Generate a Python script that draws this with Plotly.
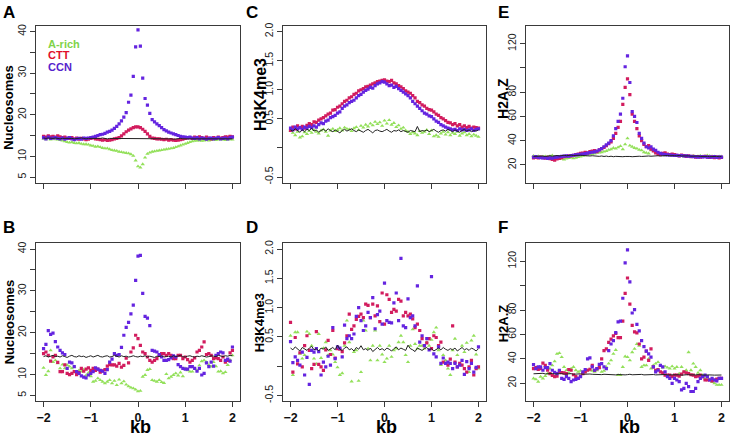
"""Perfiles de nucleosomas, H3K4me3 y H2A.Z alrededor del sitio (kb)"""

import numpy as np
import plotly.graph_objects as go

# ---------------- datos ----------------
KB_TICKS = [-2, -1, 0, 1, 2]

# A - Nucleosomas (promedio)
a_rich_A = [14.2, 14.1, 14.3, 14.0, 14.2, 14.1, 14.0, 13.9, 13.8, 13.6, 13.4, 13.3, 13.4, 13.2, 13.1, 13.2, 13.0, 12.9, 12.9, 12.8,
            12.6, 12.5, 12.3, 12.4, 12.2, 12.0, 11.9, 11.9, 11.7, 11.5, 11.4, 11.3, 11.1, 11.0, 10.9, 10.8, 10.7, 10.5, 10.1, 9.0,
            7.6, 7.3, 8.1, 9.7, 10.6, 10.9, 11.1, 11.2, 11.3, 11.4, 11.5, 11.6, 11.7, 11.8, 11.9, 12.0, 12.2, 12.4, 12.6, 12.8,
            13.0, 13.2, 13.4, 13.6, 13.7, 13.8, 13.8, 13.7, 13.8, 13.9, 13.8, 13.9, 14.0, 13.9, 14.0, 14.1, 14.0, 13.9, 14.0, 14.1, 14.0]
ctt_A = [14.8, 14.6, 14.9, 14.7, 14.8, 14.6, 14.9, 14.7, 14.5, 14.6, 14.4, 14.3, 14.5, 14.2, 14.4, 14.1, 14.3, 14.2, 14.0, 14.1,
         14.3, 14.4, 14.2, 14.1, 14.0, 13.9, 14.0, 13.8, 13.9, 14.0, 14.2, 14.3, 14.5, 14.9, 15.4, 15.9, 16.3, 16.6, 16.9, 17.1,
         17.1, 16.9, 16.5, 16.0, 15.4, 14.8, 14.4, 14.3, 14.2, 14.2, 14.1, 14.0, 14.1, 13.9, 14.0, 13.9, 13.8, 13.9, 14.0, 14.1,
         14.3, 14.4, 14.5, 14.3, 14.6, 14.4, 14.7, 14.5, 14.3, 14.6, 14.4, 14.2, 14.5, 14.3, 14.6, 14.4, 14.5, 14.7, 14.6, 14.8, 14.7]
ccn_A = [14.5, 14.2, 14.6, 14.3, 14.4, 14.5, 14.3, 14.2, 14.4, 14.1, 14.3, 14.5, 14.2, 14.0, 14.2, 14.3, 14.1, 14.4, 14.3, 14.4,
         14.5, 14.6, 14.8, 15.0, 15.2, 15.3, 15.5, 15.8, 16.0, 16.3, 16.7, 17.2, 17.8, 18.5, 19.4, 20.5, 23.0, 24.7, 29.2, 36.3,
         40.4, 36.5, 28.8, 23.9, 22.3, 20.3, 18.8, 18.3, 17.8, 17.4, 16.9, 16.4, 16.1, 15.8, 15.6, 15.4, 15.2, 15.0, 14.8, 14.7,
         14.6, 14.5, 14.6, 14.4, 14.3, 14.5, 14.2, 14.4, 14.3, 14.1, 14.3, 14.4, 14.2, 14.3, 14.5, 14.2, 14.3, 14.4, 14.2, 14.5, 14.6]
fondo_A = [14.4, 14.3, 14.4, 14.3, 14.3, 14.4, 14.3, 14.2, 14.3, 14.3, 14.4, 14.3, 14.3, 14.2, 14.3, 14.3, 14.4, 14.3, 14.2, 14.3,
           14.3, 14.3, 14.2, 14.3, 14.3, 14.4, 14.3, 14.2, 14.3, 14.3, 14.2, 14.3, 14.3, 14.2, 14.3, 14.2, 14.3, 14.3, 14.2, 14.3,
           14.2, 14.3, 14.2, 14.2, 14.3, 14.2, 14.3, 14.2, 14.2, 14.3, 14.2, 14.2, 14.3, 14.2, 14.2, 14.1, 14.2, 14.2, 14.3, 14.2,
           14.2, 14.1, 14.2, 14.2, 14.1, 14.2, 14.2, 14.1, 14.2, 14.2, 14.2, 14.1, 14.2, 14.2, 14.1, 14.2, 14.1, 14.2, 14.2, 14.1, 14.2]

# B - Nucleosomas (individual)
a_rich_B = [11.6, 9.9, 10.8, 15.8, 13.0, 13.4, 12.7, 11.5, 12.4, 11.5, 12.3, 11.9, 11.5, 11.9, 10.7, 11.0, 10.7, 11.2, 9.8, 10.4,
            9.6, 8.3, 8.5, 9.1, 8.7, 8.3, 7.9, 8.3, 8.7, 7.9, 8.5, 7.5, 8.8, 7.9, 8.4, 7.6, 7.2, 6.9, 6.7, 6.4,
            6.0, 6.1, 9.5, 9.9, 11.1, 11.3, 8.7, 8.5, 8.3, 8.7, 8.2, 8.0, 10.1, 9.1, 9.5, 9.9, 10.3, 9.8, 10.5, 9.6,
            11.5, 11.0, 10.7, 10.7, 11.5, 11.0, 12.2, 13.2, 13.4, 13.0, 12.3, 11.9, 13.0, 12.0, 10.7, 10.8, 10.3, 10.6, 12.3, 13.5, 14.6]
ctt_B = [15.0, 15.4, 14.6, 13.2, 14.2, 14.6, 12.9, 10.7, 10.7, 12.3, 10.3, 10.0, 10.3, 10.7, 10.0, 10.5, 11.5, 10.8, 11.3, 11.6,
         11.0, 11.5, 11.0, 11.3, 10.6, 10.9, 11.2, 12.0, 12.4, 12.3, 12.3, 12.0, 12.7, 11.8, 12.2, 13.9, 12.8, 15.4, 16.4, 19.4,
         18.6, 17.0, 15.4, 15.0, 14.2, 13.4, 13.0, 13.4, 13.8, 14.6, 15.0, 15.0, 14.6, 15.0, 14.6, 13.8, 13.8, 14.6, 14.6, 13.8,
         14.2, 13.6, 13.0, 13.4, 14.0, 15.4, 15.8, 16.6, 17.8, 14.8, 15.0, 14.6, 13.8, 14.0, 13.8, 13.4, 14.2, 13.0, 13.4, 15.2, 15.8]
ccn_B = [16.2, 17.2, 20.5, 19.6, 19.9, 17.9, 16.6, 15.8, 15.2, 14.8, 11.5, 13.0, 12.8, 11.9, 10.7, 10.3, 9.7, 9.4, 9.2, 9.9,
         10.3, 10.7, 11.6, 11.3, 11.0, 10.8, 10.3, 11.2, 13.0, 13.7, 15.0, 14.6, 14.8, 16.5, 19.4, 21.3, 22.5, 24.5, 26.6, 32.5,
         38.3, 38.5, 29.4, 23.9, 23.5, 21.7, 15.8, 15.6, 15.4, 14.8, 14.2, 13.4, 13.4, 13.6, 14.0, 14.5, 14.2, 12.4, 11.9, 11.5,
         11.3, 11.3, 11.9, 11.9, 11.5, 10.8, 11.5, 9.9, 10.3, 12.8, 11.9, 13.0, 12.0, 14.6, 15.0, 15.4, 15.2, 13.4, 13.7, 13.2, 16.6]
fondo_B = [14.3, 14.5, 14.2, 14.4, 14.6, 14.3, 14.4, 14.2, 14.5, 14.3, 14.1, 14.4, 14.6, 14.3, 14.2, 14.5, 14.3, 14.4, 14.1, 14.3,
           14.5, 14.2, 14.4, 14.6, 14.3, 14.2, 14.4, 14.5, 14.2, 14.3, 14.6, 14.4, 14.2, 14.5, 14.3, 14.4, 14.2, 14.3, 14.5, 14.3,
           14.2, 14.4, 14.3, 14.5, 14.2, 14.4, 14.3, 14.1, 14.4, 14.3, 14.5, 14.2, 14.3, 14.4, 14.2, 14.5, 14.3, 14.4, 14.6, 14.3,
           14.2, 14.4, 14.5, 14.3, 14.2, 14.4, 14.3, 14.5, 14.4, 14.2, 14.3, 14.5, 14.4, 14.3, 14.6, 14.4, 14.3, 14.5, 14.4, 14.6, 14.5]

# C - H3K4me3 (promedio)
a_rich_C = [0.30, 0.26, 0.22, 0.28, 0.18, 0.20, 0.27, 0.24, 0.29, 0.26, 0.31, 0.28, 0.25, 0.30, 0.32, 0.28, 0.21, 0.30, 0.33, 0.29,
            0.31, 0.34, 0.30, 0.35, 0.33, 0.32, 0.29, 0.34, 0.36, 0.31, 0.38, 0.35, 0.40, 0.37, 0.42, 0.39, 0.45, 0.41, 0.44, 0.38,
            0.47, 0.42, 0.48, 0.40, 0.43, 0.36, 0.39, 0.33, 0.35, 0.30, 0.28, 0.24, 0.27, 0.25, 0.22, 0.29, 0.26, 0.28, 0.31, 0.24,
            0.30, 0.20, 0.22, 0.19, 0.25, 0.28, 0.23, 0.27, 0.22, 0.26, 0.24, 0.28, 0.21, 0.25, 0.27, 0.22, 0.24, 0.20, 0.23, 0.21, 0.19]
ctt_C = [0.30, 0.36, 0.33, 0.38, 0.35, 0.37, 0.34, 0.39, 0.42, 0.40, 0.45, 0.44, 0.48, 0.50, 0.52, 0.55, 0.58, 0.60, 0.65, 0.66,
         0.70, 0.72, 0.76, 0.80, 0.82, 0.86, 0.88, 0.92, 0.94, 0.98, 1.00, 1.02, 1.05, 1.06, 1.08, 1.10, 1.12, 1.14, 1.15, 1.16,
         1.17, 1.15, 1.14, 1.16, 1.12, 1.10, 1.07, 1.05, 1.02, 0.98, 0.96, 0.94, 0.90, 0.86, 0.80, 0.78, 0.74, 0.72, 0.68, 0.66,
         0.65, 0.62, 0.58, 0.56, 0.52, 0.50, 0.47, 0.44, 0.43, 0.40, 0.42, 0.38, 0.40, 0.36, 0.38, 0.35, 0.37, 0.34, 0.36, 0.35, 0.34]
ccn_C = [0.34, 0.31, 0.36, 0.33, 0.35, 0.32, 0.36, 0.34, 0.37, 0.35, 0.38, 0.36, 0.40, 0.43, 0.42, 0.46, 0.48, 0.52, 0.54, 0.56,
         0.60, 0.62, 0.68, 0.72, 0.74, 0.78, 0.80, 0.82, 0.86, 0.90, 0.92, 0.96, 0.99, 1.01, 1.04, 1.03, 1.07, 1.10, 1.12, 1.14,
         1.13, 1.10, 1.07, 1.08, 1.04, 1.06, 1.02, 0.99, 0.96, 0.93, 0.90, 0.86, 0.80, 0.76, 0.72, 0.68, 0.64, 0.60, 0.58, 0.55,
         0.54, 0.50, 0.46, 0.44, 0.40, 0.38, 0.36, 0.34, 0.33, 0.31, 0.32, 0.30, 0.33, 0.31, 0.32, 0.30, 0.31, 0.33, 0.30, 0.32, 0.33]
fondo_C = [0.31, 0.29, 0.33, 0.30, 0.27, 0.31, 0.28, 0.32, 0.30, 0.34, 0.29, 0.31, 0.27, 0.30, 0.32, 0.29, 0.33, 0.30, 0.28, 0.31,
           0.29, 0.26, 0.30, 0.32, 0.29, 0.31, 0.33, 0.30, 0.28, 0.31, 0.29, 0.27, 0.30, 0.32, 0.29, 0.26, 0.30, 0.31, 0.29, 0.28,
           0.30, 0.32, 0.29, 0.27, 0.30, 0.29, 0.31, 0.28, 0.30, 0.29, 0.27, 0.30, 0.29, 0.28, 0.37, 0.28, 0.30, 0.29, 0.31, 0.28,
           0.30, 0.32, 0.29, 0.27, 0.30, 0.31, 0.29, 0.32, 0.30, 0.28, 0.31, 0.29, 0.27, 0.30, 0.32, 0.29, 0.31, 0.28, 0.30, 0.29, 0.31]

# D - H3K4me3 (individual)
a_rich_D = [0.52, -0.15, 0.58, 0.58, 0.21, 0.13, 0.19, 0.59, 0.55, 0.35, 0.13, 0.04, 0.55, 0.14, 0.31, 0.41, 0.19, 0.27, 0.20, 0.07,
            -0.02, -0.15, -0.12, 0.35, 0.78, 0.41, -0.26, 0.24, 0.27, -0.25, -0.10, 0.78, 0.61, 0.30, 0.10, 0.35, 0.61, 0.10, 0.35, 0.20,
            0.07, 0.13, 0.35, 0.16, 0.27, 0.30, 0.41, 0.52, 0.41, 0.19, 0.07, 0.35, 0.63, 0.38, 0.30, 0.35, 0.35, 0.30, 0.41, 0.35,
            0.45, 0.58, 0.66, 0.27, 0.02, 0.19, 0.10, -0.04, -0.15, 0.27, 0.47, 0.19, 0.02, 0.35, 0.24, 0.40, -0.10, 0.44, 0.52, 0.20, -0.04]
ctt_D = [0.75, -0.10, 0.49, 0.04, 0.23, -0.01, 0.35, 0.52, 0.27, -0.04, 0.03, 0.59, 0.03, -0.01, -0.07, 0.28, 0.44, 0.20, 0.61, 0.14,
         0.30, 0.29, 0.25, 0.40, 0.52, 0.89, 0.63, 0.69, 0.80, 0.85, 0.89, 0.83, 1.06, 1.04, 0.83, 1.06, 0.86, 1.03, 0.76, 1.25,
         0.72, 1.22, 1.14, 0.92, 0.97, 0.94, 1.14, 1.11, 0.86, 0.92, 0.86, 0.89, 0.81, 0.66, 0.72, 0.61, 0.47, 0.35, 0.40, 0.47,
         0.30, 0.52, 0.49, 0.35, 0.41, 0.07, 0.05, 0.02, 0.12, 0.69, 0.07, -0.01, 0.05, 0.02, -0.04, -0.10, -0.01, 0.10, -0.15, -0.04, -0.01]
ccn_D = [0.42, 0.06, 0.16, 0.10, 0.02, 0.24, -0.15, 0.15, -0.31, 0.27, 0.24, 0.30, 0.25, -0.15, 0.07, -0.01, 0.17, 0.02, 0.66, 0.13,
         0.33, 0.31, 0.16, 0.70, 0.47, 0.52, 0.47, 0.55, 0.85, 1.00, 0.78, 0.61, 0.69, 0.92, 0.83, 1.17, 0.64, 0.88, 0.94, 0.72,
         1.42, 0.78, 0.75, 0.74, 1.08, 1.25, 0.78, 1.84, 0.69, 0.66, 1.15, 0.83, 0.86, 0.69, 1.37, 0.41, 0.52, 0.35, 0.47, 0.28,
         1.53, 0.21, 0.16, 0.33, 0.05, 0.14, 0.05, 0.07, 0.05, -0.04, 0.05, -0.01, 0.02, 0.10, -0.14, 0.08, -0.04, 0.05, -0.10, -0.02, 0.33]
fondo_D = [0.31, 0.28, 0.33, 0.29, 0.26, 0.32, 0.30, 0.27, 0.31, 0.34, 0.28, 0.30, 0.26, 0.31, 0.29, 0.33, 0.27, 0.30, 0.32, 0.28,
           0.36, 0.29, 0.27, 0.31, 0.33, 0.28, 0.30, 0.26, 0.32, 0.29, 0.35, 0.28, 0.30, 0.27, 0.31, 0.25, 0.29, 0.32, 0.28, 0.30,
           0.27, 0.31, 0.29, 0.26, 0.30, 0.33, 0.28, 0.31, 0.29, 0.27, 0.36, 0.30, 0.28, 0.25, 0.31, 0.29, 0.27, 0.30, 0.32, 0.28,
           0.30, 0.26, 0.29, 0.31, 0.28, 0.32, 0.29, 0.27, 0.30, 0.28, 0.31, 0.26, 0.29, 0.32, 0.28, 0.30, 0.27, 0.31, 0.29, 0.26, 0.30]

# E - H2A.Z (promedio)
a_rich_E = [27.5, 26.8, 27.2, 26.5, 26.9, 27.0, 26.4, 27.3, 27.8, 26.7, 26.0, 25.5, 25.0, 24.5, 25.2, 25.8, 26.2, 25.5, 26.0, 26.5,
            27.0, 27.5, 28.0, 28.5, 28.8, 29.0, 29.5, 30.0, 30.2, 30.5, 31.0, 31.5, 32.5, 33.0, 34.0, 33.5, 34.5, 35.5, 33.0, 37.0,
            42.0, 36.0, 35.0, 34.0, 33.5, 32.5, 32.0, 30.5, 30.0, 29.5, 32.0, 32.6, 30.5, 30.0, 29.0, 28.5, 28.0, 28.2, 27.8, 28.0,
            27.5, 27.8, 27.3, 27.6, 27.0, 27.4, 26.8, 27.1, 27.5, 26.9, 27.2, 27.6, 27.0, 27.3, 27.8, 27.5, 27.2, 27.0, 26.8, 27.1, 27.0]
ctt_E = [25.8, 26.2, 25.9, 26.5, 26.0, 25.6, 26.3, 25.2, 24.5, 24.0, 25.0, 25.5, 26.0, 26.8, 27.2, 27.6, 27.5, 28.0, 28.6, 29.0,
         29.5, 29.8, 30.5, 30.0, 31.0, 31.5, 31.8, 31.0, 32.5, 33.5, 34.5, 36.0, 37.5, 39.0, 42.0, 46.0, 51.0, 56.0, 70.0, 84.0,
         91.0, 78.0, 62.0, 56.0, 50.0, 44.0, 40.0, 37.0, 35.0, 36.0, 33.0, 31.5, 30.0, 29.0, 28.5, 29.5, 30.0, 29.0, 28.5, 29.0,
         28.5, 28.0, 27.5, 28.2, 27.8, 27.0, 27.5, 26.8, 27.2, 26.5, 26.9, 26.4, 26.8, 27.1, 26.5, 26.2, 26.6, 26.0, 26.5, 25.8, 26.2]
ccn_E = [26.5, 26.8, 26.2, 26.0, 25.8, 26.1, 25.5, 25.9, 25.6, 26.2, 26.4, 26.8, 27.0, 27.3, 27.5, 27.2, 27.8, 28.0, 28.3, 28.5,
         28.8, 29.0, 29.3, 29.8, 30.2, 30.5, 30.8, 31.5, 32.5, 33.5, 35.0, 36.5, 38.0, 40.0, 44.0, 50.0, 56.0, 62.0, 75.0, 101.0,
         110.0, 88.0, 64.0, 60.0, 55.0, 46.0, 42.0, 38.0, 35.0, 34.0, 35.0, 33.0, 32.0, 30.5, 29.5, 29.0, 28.6, 28.4, 28.2, 28.0,
         27.8, 27.9, 27.6, 27.8, 27.4, 27.5, 27.2, 27.0, 26.8, 26.9, 26.5, 26.8, 26.6, 26.9, 26.4, 26.7, 26.5, 26.8, 26.3, 26.6, 26.5]
fondo_E = [27.0, 27.2, 26.8, 27.1, 27.4, 27.0, 27.3, 27.6, 27.2, 27.5, 27.8, 27.4, 27.7, 28.0, 27.6, 27.9, 28.1, 27.8, 28.0, 27.7,
           28.0, 27.8, 27.5, 27.8, 27.4, 27.6, 27.3, 27.5, 27.1, 27.4, 27.0, 27.3, 26.9, 27.2, 26.8, 27.1, 26.9, 27.2, 26.8, 27.0,
           26.7, 27.0, 26.8, 27.1, 26.9, 27.2, 27.0, 27.3, 27.1, 27.4, 27.2, 27.5, 27.3, 27.6, 27.4, 27.7, 27.5, 27.8, 27.6, 27.9,
           27.7, 27.5, 27.8, 27.4, 27.6, 27.3, 27.5, 27.2, 27.4, 27.1, 27.3, 27.0, 27.2, 26.9, 27.1, 26.8, 27.0, 26.9, 27.1, 26.8, 27.0]

# F - H2A.Z (individual)
a_rich_F = [24.0, 23.2, 21.3, 25.4, 24.0, 25.9, 28.0, 32.1, 34.7, 38.0, 44.1, 44.7, 41.5, 33.4, 30.7, 28.6, 32.1, 33.4, 30.7, 29.4,
            30.2, 28.0, 29.4, 30.7, 31.3, 30.2, 29.4, 30.7, 32.9, 29.4, 30.2, 33.4, 36.1, 38.8, 44.1, 47.3, 26.7, 26.7, 33.4, 42.0,
            41.5, 38.8, 45.5, 48.2, 52.2, 50.8, 33.4, 34.7, 34.7, 40.1, 32.1, 34.7, 36.1, 37.4, 34.7, 32.9, 33.9, 32.9, 32.1, 33.9,
            32.1, 33.4, 28.0, 33.4, 29.4, 30.7, 45.5, 30.7, 36.1, 33.4, 28.6, 30.7, 26.7, 24.0, 22.7, 23.2, 21.0, 20.0, 18.7, 18.7, 18.7]
ctt_F = [32.1, 32.9, 31.3, 32.1, 36.6, 34.7, 30.7, 28.0, 26.5, 25.4, 25.9, 29.4, 28.8, 28.6, 28.0, 31.3, 30.7, 27.0, 25.4, 24.0,
         26.0, 28.0, 29.4, 30.7, 31.5, 34.7, 30.7, 32.1, 32.9, 40.0, 46.8, 48.2, 53.5, 56.2, 58.9, 60.8, 57.5, 57.5, 70.9, 93.7,
         106.3, 84.9, 67.5, 62.2, 61.4, 52.2, 40.1, 41.5, 46.3, 38.8, 48.2, 33.4, 30.7, 31.3, 29.4, 28.6, 26.7, 26.7, 26.7, 25.4,
         26.7, 26.7, 25.9, 27.5, 29.4, 28.6, 28.0, 27.0, 26.7, 25.4, 25.9, 26.7, 25.5, 22.7, 22.7, 22.7, 22.0, 22.7, 23.5, 24.0, 24.0]
ccn_F = [35.3, 32.1, 33.4, 33.4, 30.7, 32.9, 32.9, 36.1, 30.7, 29.0, 28.0, 30.7, 24.0, 23.2, 25.4, 24.0, 21.3, 22.7, 23.2, 24.0,
         25.4, 29.4, 31.3, 40.1, 40.9, 33.4, 30.7, 32.1, 35.5, 36.1, 33.4, 32.1, 46.8, 52.2, 54.9, 61.6, 70.4, 70.9, 89.7, 118.7,
         129.4, 103.1, 77.6, 80.3, 68.3, 62.9, 54.9, 50.0, 46.3, 44.1, 41.5, 33.4, 29.4, 30.7, 34.7, 33.4, 29.4, 25.4, 24.0, 20.0,
         24.0, 22.7, 21.3, 14.6, 15.9, 20.0, 17.3, 13.3, 13.3, 15.9, 21.3, 24.0, 25.4, 26.7, 25.4, 22.7, 24.0, 22.7, 22.0, 24.0, 24.0]
fondo_F = [27.8, 28.0, 27.6, 27.9, 28.2, 27.7, 28.0, 27.8, 28.1, 27.6, 27.9, 27.7, 28.0, 27.5, 27.8, 27.6, 27.9, 27.4, 27.7, 27.5,
           27.8, 27.4, 27.6, 27.3, 27.6, 27.4, 27.2, 27.5, 27.3, 27.1, 27.4, 27.2, 27.0, 27.3, 27.1, 26.9, 27.2, 27.0, 27.3, 26.9,
           27.1, 27.4, 27.0, 27.2, 26.9, 27.1, 27.3, 26.9, 27.1, 26.8, 27.0, 27.2, 26.9, 27.1, 26.8, 27.0, 27.2, 26.9, 27.0, 26.8,
           27.1, 26.9, 27.0, 26.7, 27.0, 26.8, 27.1, 26.9, 26.7, 26.9, 27.1, 26.8, 26.9, 26.7, 26.9, 26.6, 26.8, 26.7, 26.9, 26.6, 26.8]

# ---------------- estilo ----------------
VERDE = '#93e05a'
ROJO = '#d21c5e'
VIOLETA = '#6424e0'
FUENTE = 'Liberation Sans, Arial, sans-serif'

# ejes y: (rango, ticks, etiquetas)
EJE_NUC = ([3.6, 41.4], [5, 10, 15, 20, 25, 30, 35, 40], ['5', '10', '', '20', '', '30', '', '40'])
EJE_H3 = ([-0.6, 2.1], [-0.5, 0, 0.5, 1.0, 1.5, 2.0], ['-0.5', '', '0.5', '1.0', '1.5', '2.0'])
EJE_H2 = ([5.2, 134.8], [20, 40, 60, 80, 100, 120], ['20', '40', '60', '80', '', '120'])

# dominios en papel (pixeles / tamaño de la figura)
W, H = 732, 435
col_x = [(36, 240), (283, 486), (526, 729)]
fila_y = [(23, 182), (243, 403)]

paneles = [
    # letra, fila, col, series, eje, titulo y, (x titulo px, y titulo px, tamaño)
    ('A', 0, 0, (a_rich_A, ctt_A, ccn_A, fondo_A), EJE_NUC, 'Nucleosomes', (9, 106, 13)),
    ('C', 0, 1, (a_rich_C, ctt_C, ccn_C, fondo_C), EJE_H3, 'H3K4me3', (261, 93, 16)),
    ('E', 0, 2, (a_rich_E, ctt_E, ccn_E, fondo_E), EJE_H2, 'H2A.Z', (503, 97, 14)),
    ('B', 1, 0, (a_rich_B, ctt_B, ccn_B, fondo_B), EJE_NUC, 'Nucleosomes', (9, 323, 13)),
    ('D', 1, 1, (a_rich_D, ctt_D, ccn_D, fondo_D), EJE_H3, 'H3K4me3', (259, 324, 13)),
    ('F', 1, 2, (a_rich_F, ctt_F, ccn_F, fondo_F), EJE_H2, 'H2A.Z', (503, 324, 13)),
]

fig = go.Figure()
anotaciones = []
ejes = {}

for k, (letra, fila, col, series, eje, titulo, pos_tit) in enumerate(paneles, start=1):
    sfx = '' if k == 1 else str(k)
    xa, ya = 'x' + sfx, 'y' + sfx
    verde, rojo, violeta, fondo = series

    # puntos por grupo
    for vals, color, simb in ((verde, VERDE, 'triangle-up'), (rojo, ROJO, 'square'), (violeta, VIOLETA, 'square')):
        fig.add_trace(go.Scatter(
            x=np.linspace(-2, 2, len(vals)), y=vals,
            mode='markers',
            marker=dict(size=3.2 if simb == 'square' else 3.8, color=color, symbol=simb, line=dict(width=0)),
            xaxis=xa, yaxis=ya, showlegend=False, hoverinfo='skip'
        ))
    # control (linea negra)
    fig.add_trace(go.Scatter(
        x=np.linspace(-2, 2, len(fondo)), y=fondo,
        mode='lines', line=dict(color='#222222', width=1),
        xaxis=xa, yaxis=ya, showlegend=False, hoverinfo='skip'
    ))

    x0, x1 = col_x[col]
    y0, y1 = fila_y[fila]
    abajo = fila == 1
    ejes['xaxis' + sfx] = dict(
        domain=[x0 / W, x1 / W], range=[-2.16, 2.16], anchor=ya,
        showline=True, mirror=True, linecolor='#3a3a3a', linewidth=1,
        ticks='outside', ticklen=5, tickcolor='#3a3a3a',
        tickvals=KB_TICKS, ticktext=['<b>%s</b>' % t for t in ['\u22122', '\u22121', '0', '1', '2']],
        showticklabels=abajo, tickfont=dict(size=12.5, color='#111111', family=FUENTE),
        showgrid=False, zeroline=False
    )
    rango, tv, tt = eje
    ejes['yaxis' + sfx] = dict(
        domain=[1 - y1 / H, 1 - y0 / H], range=rango, anchor=xa,
        showline=True, mirror=True, linecolor='#3a3a3a', linewidth=1,
        ticks='outside', ticklen=5, tickcolor='#3a3a3a',
        tickvals=tv, ticktext=tt, tickangle=-90,
        tickfont=dict(size=10.5, color='#222222', family=FUENTE),
        showgrid=False, zeroline=False
    )

    # letra del panel
    lx = {0: 1, 1: 244, 2: 496}[col]
    ly = {0: 10, 1: 227}[fila]
    anotaciones.append(dict(
        x=lx / W, y=1 - ly / H, xref='paper', yref='paper', text='<b>%s</b>' % letra,
        showarrow=False, xanchor='left', yanchor='middle',
        font=dict(size=17, color='black', family=FUENTE)
    ))
    # titulo eje y
    tx, ty, ts = pos_tit
    anotaciones.append(dict(
        x=tx / W, y=1 - ty / H, xref='paper', yref='paper', text='<b>%s</b>' % titulo,
        showarrow=False, textangle=-90, xanchor='center', yanchor='middle',
        font=dict(size=ts, color='black', family=FUENTE)
    ))
    # titulo eje x
    if abajo:
        anotaciones.append(dict(
            x=0.05, y=1 - 429 / H, xref=xa, yref='paper', text='<b>kb</b>',
            showarrow=False, xanchor='center', yanchor='middle', borderpad=0,
            font=dict(size=18, color='black', family=FUENTE)
        ))

# leyenda del panel A
for texto, color, py in (('A-rich', '#7fd34a', 41), ('CTT', '#e0102a', 53), ('CCN', '#5522cc', 65)):
    anotaciones.append(dict(
        x=46 / W, y=1 - py / H, xref='paper', yref='paper', text='<b>%s</b>' % texto,
        showarrow=False, xanchor='left', yanchor='middle',
        font=dict(size=11, color=color, family=FUENTE)
    ))

fig.update_layout(
    width=W, height=H, autosize=False,
    margin=dict(l=0, r=0, t=0, b=0),
    paper_bgcolor='white', plot_bgcolor='white',
    showlegend=False,
    annotations=anotaciones,
    **ejes
)

# sin margen del body para que la figura ocupe la ventana entera
fig.write_html("out.html", config={'displayModeBar': False},
               post_script="document.body.style.margin='0';")
